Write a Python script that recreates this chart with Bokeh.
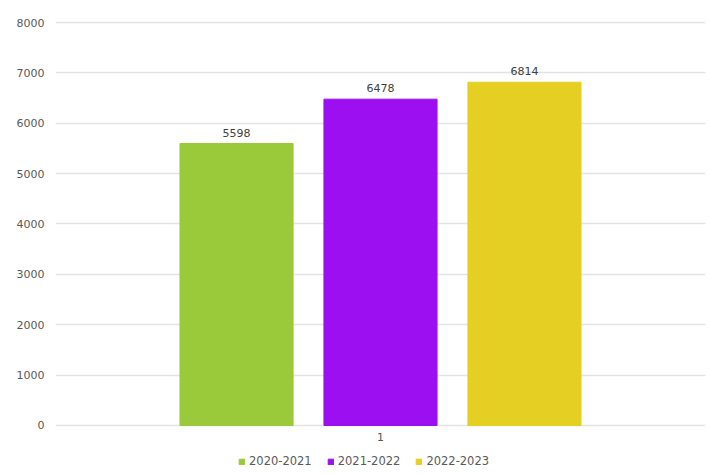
from bokeh.plotting import figure
from bokeh.models import ColumnDataSource, FactorRange, Range1d, FixedTicker, Legend, LegendItem, LabelSet
from bokeh.transform import dodge
from bokeh.core.properties import value
from bokeh.embed import file_html
from bokeh.resources import INLINE

categories = ["1"]
series_names = ["2020-2021", "2021-2022", "2022-2023"]
series_values = [5598, 6478, 6814]
series_colors = ["#9aca3a", "#9b0ff0", "#e4cf22"]
y_ticks = [0, 1000, 2000, 3000, 4000, 5000, 6000, 7000, 8000]

FONT = "DejaVu Sans"
TXT = "#595959"

# frame runs to the bottom of the page; the strip below 0 holds category label and legend
p = figure(x_range=FactorRange(*categories, range_padding=0), y_range=Range1d(-993, 8040),
           frame_width=650, frame_height=455, output_backend="svg", toolbar_location=None,
           min_border_left=55, min_border_right=4, min_border_top=20, min_border_bottom=0)
p.outline_line_color = None
p.background_fill_color = "white"
p.border_fill_color = "white"

offsets = [-0.2215, 0.0, 0.2215]
items = []
for name, val, col, off in zip(series_names, series_values, series_colors, offsets):
    src = ColumnDataSource(dict(x=categories, y=[val], lab=[str(val)]))
    r = p.vbar(x=dodge("x", off, range=p.x_range), top="y", width=0.174, source=src,
               fill_color=col, line_color=col)
    items.append(LegendItem(label=name, renderers=[r]))
    lbl = LabelSet(x=dodge("x", off, range=p.x_range), y="y", text="lab", source=src,
                   text_align="center", text_baseline="bottom", y_offset=7,
                   text_font=value(FONT), text_font_size=value("11px"), text_color=value("#404040"))
    p.add_layout(lbl)

# category label under the bars
cat_src = ColumnDataSource(dict(x=categories, y=[0] * len(categories), lab=categories))
p.add_layout(LabelSet(x="x", y="y", text="lab", source=cat_src, text_align="center",
                      text_baseline="top", y_offset=-8, text_font=value(FONT),
                      text_font_size=value("11px"), text_color=value(TXT)))

p.yaxis.ticker = FixedTicker(ticks=y_ticks)
p.yaxis.axis_line_color = None
p.yaxis.major_tick_line_color = None
p.yaxis.minor_tick_line_color = None
p.yaxis.major_tick_out = 0
p.yaxis.major_tick_in = 0
p.yaxis.major_label_text_font = FONT
p.yaxis.major_label_text_font_size = "11px"
p.yaxis.major_label_text_color = TXT
p.yaxis.major_label_standoff = 11

p.xaxis.visible = False

p.xgrid.grid_line_color = None
p.ygrid.grid_line_color = "#e3e3e3"
p.ygrid.grid_line_width = 1.5

legend = Legend(items=items, orientation="horizontal", location=(183, 7),
                glyph_width=7, glyph_height=7, label_text_font=FONT,
                label_text_font_size="11.5px", label_text_color=TXT,
                label_height=12, spacing=15, padding=0, margin=0, border_line_color=None,
                background_fill_alpha=0, label_standoff=4)
p.add_layout(legend)

open("out.html", "w").write(file_html(p, INLINE))
